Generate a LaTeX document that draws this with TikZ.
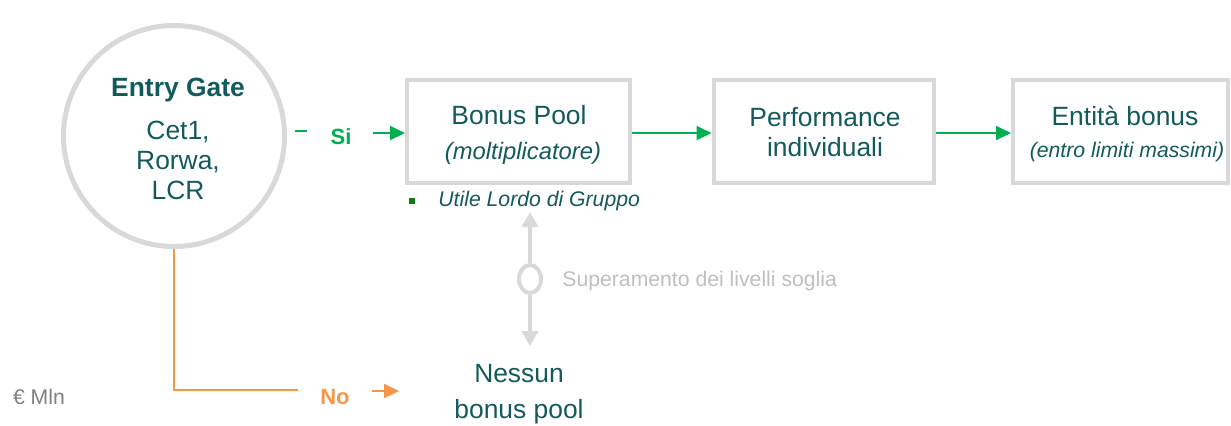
\documentclass[tikz,border=0pt]{standalone}
\usepackage{fontspec}
\setmainfont{Liberation Sans}
\usetikzlibrary{arrows.meta,shapes.geometric}
\definecolor{dteal}{HTML}{125A5C}
\definecolor{okgreen}{HTML}{00B050}
\definecolor{noorange}{HTML}{F79646}
\definecolor{lgray}{HTML}{D9D9D9}
\definecolor{softgray}{HTML}{BFBFBF}
\definecolor{midgray}{HTML}{808080}
\definecolor{bulletgreen}{HTML}{127A12}
\tikzset{
  gatecircle/.style={circle, draw=lgray, line width=2.5pt, minimum size=110.5pt, inner sep=0pt},
  stagebox/.style={rectangle, draw=lgray, line width=2pt, minimum height=51.5pt, inner sep=0pt},
  maintxt/.style={text=dteal, font=\fontsize{13.2}{15}\selectfont, inner sep=0pt, anchor=center},
  subtxt/.style={text=dteal, font=\fontsize{10.6}{12}\selectfont\itshape, inner sep=0pt},
  yesno/.style={font=\fontsize{11}{13}\selectfont\bfseries, inner sep=0pt},
  greenarrow/.style={draw=okgreen, line width=1pt, -{Triangle[length=7.5pt,width=7pt]}},
  orangearrow/.style={draw=noorange, line width=1pt, -{Triangle[length=7.5pt,width=7pt]}},
  grayarrow/.style={draw=lgray, line width=2pt, -{Triangle[length=7.5pt,width=8pt]}},
}
\begin{document}
\begin{tikzpicture}[x=0.5pt,y=-0.5pt]
\useasboundingbox (0,0) rectangle (1231,425);
% entry gate
\node[gatecircle] (gate) at (174,136) {};
\node[maintxt, font=\fontsize{13.2}{15}\selectfont\bfseries] (gateT) at (178,90) {Entry Gate};
\node[maintxt, align=center] (gateC) at (178,160) {Cet1,\\Rorwa,\\LCR};
% boxes
\node[stagebox, minimum width=111.5pt] (pool) at (518.5,131.5) {};
\node[stagebox, minimum width=110pt] (perf) at (823.5,131.5) {};
\node[stagebox, minimum width=107.5pt] (ent) at (1120.5,131.5) {};
\node[maintxt] (poolT) at (519,115) {Bonus Pool};
\node[subtxt, font=\fontsize{11.9}{14}\selectfont\itshape] (poolS) at (523,153) {(moltiplicatore)};
\node[maintxt, align=center] (perfT) at (825,132) {Performance\\individuali};
\node[maintxt] (entT) at (1125,116) {Entità bonus};
\node[subtxt] (entS) at (1127,152) {(entro limiti massimi)};
% yes path
\coordinate (siA) at (295,131);
\coordinate (siB) at (307,131);
\draw[okgreen, line width=1pt] (siA) -- (siB);
\node[yesno, text=okgreen] (si) at (341,137) {Si};
\coordinate (siC) at (373,133);
\draw[greenarrow] (siC) -- (pool.west |- siC);
\draw[greenarrow] (pool.east |- siC) -- (perf.west |- siC);
\draw[greenarrow] (perf.east |- siC) -- (ent.west |- siC);
% bullet
\node[fill=bulletgreen, minimum size=3.3pt, inner sep=0pt] (bul) at (412,201) {};
\node[subtxt, anchor=west] (utile) at (438,201) {Utile Lordo di Gruppo};
% threshold
\node[ellipse, draw=lgray, line width=2pt, fill=white, minimum width=11pt, minimum height=14pt, inner sep=0pt] (thr) at (530,279) {};
\coordinate (thrTop) at (530,212);
\coordinate (thrBot) at (530,346);
\draw[grayarrow] (thr.north) -- (thrTop);
\draw[grayarrow] (thr.south) -- (thrBot);
\node[text=softgray, font=\fontsize{10.6}{12}\selectfont, inner sep=0pt, anchor=west] (thrT) at (562,281) {Superamento dei livelli soglia};
% no path
\coordinate (noA) at (298,390);
\draw[noorange, line width=1pt] (gate.south) |- (noA);
\node[yesno, text=noorange] (no) at (335,397) {No};
\coordinate (noB) at (372,391);
\coordinate (noC) at (399,391);
\draw[orangearrow] (noB) -- (noC);
\node[maintxt, align=center] (none) at (519,394) {Nessun\\[3pt]bonus pool};
% unit
\node[text=midgray, font=\fontsize{10.6}{12}\selectfont, inner sep=0pt] (unit) at (39,397) {€ Mln};
\end{tikzpicture}
\end{document}
